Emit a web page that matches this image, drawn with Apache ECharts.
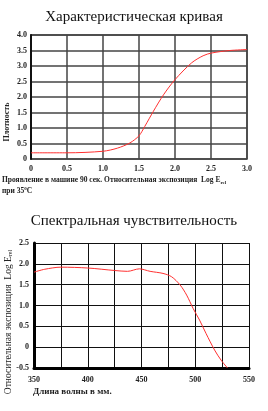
<!DOCTYPE html>
<html>
<head>
<meta charset="utf-8">
<script src="https://cdn.jsdelivr.net/npm/echarts@6/dist/echarts.min.js"></script>
<style>
  html, body { margin: 0; padding: 0; background: #fff; }
  #chart { width: 268px; height: 411px; }
</style>
</head>
<body>
<div id="chart"></div>
<script>
// characteristic curve
const logE = [0, 0.5, 1.0, 1.2, 1.375, 1.5, 1.58, 1.7, 1.84, 2.0, 2.23, 2.39, 2.51, 2.76, 3.0];
const density = [0.2, 0.2, 0.25, 0.35, 0.52, 0.75, 1.05, 1.54, 2.07, 2.56, 3.1, 3.33, 3.42, 3.5, 3.53];

// spectral sensitivity
const wavelength = [350, 360, 375, 400, 425, 437, 448, 458, 470, 478, 486, 492, 498, 504, 510, 518, 524, 530];
const exposure = [1.8, 1.87, 1.92, 1.9, 1.84, 1.82, 1.88, 1.82, 1.77, 1.69, 1.49, 1.25, 0.93, 0.65, 0.33, -0.07, -0.31, -0.5];

const serif = "Liberation Serif";
const tickFmt = v => (v === 0 ? "0" : v.toFixed(1));
const tickLabel = { fontFamily: serif, fontSize: 8, fontWeight: "bold", color: "#222" };

const chart = echarts.init(document.getElementById("chart"));

chart.setOption({
  animation: false,
  title: [
    {
      text: "Характеристическая кривая",
      left: "center", top: 5,
      textStyle: { fontFamily: serif, fontSize: 15, fontWeight: "normal", color: "#111" }
    },
    {
      text: "Спектральная чувствительность",
      left: "center", top: 209,
      textStyle: { fontFamily: serif, fontSize: 15, fontWeight: "normal", color: "#111" }
    }
  ],
  grid: [
    { left: 31, right: 21, top: 35, bottom: 252, show: true, borderColor: "#444", borderWidth: 1.5 },
    { left: 34, right: 19, top: 243, bottom: 43 }
  ],
  xAxis: [
    {
      gridIndex: 0, type: "value", min: 0, max: 3, interval: 0.5,
      axisLine: { show: false },
      axisTick: { show: false },
      axisLabel: Object.assign({ formatter: tickFmt, margin: 6 }, tickLabel),
      splitLine: { lineStyle: { color: "#444", width: 1.5 } }
    },
    {
      gridIndex: 1, type: "value", min: 350, max: 550, interval: 25,
      axisLine: { show: true, onZero: false, lineStyle: { color: "#000", width: 3 } },
      axisTick: { show: false },
      axisLabel: Object.assign({ formatter: v => (v % 50 === 0 ? String(v) : ""), margin: 8 }, tickLabel),
      splitLine: { lineStyle: { color: "#111", width: 1 } }
    }
  ],
  yAxis: [
    {
      gridIndex: 0, type: "value", min: 0, max: 4, interval: 0.5,
      axisLine: { show: true, lineStyle: { color: "#111", width: 2 } },
      axisTick: { show: false },
      axisLabel: Object.assign({ formatter: tickFmt, margin: 4 }, tickLabel),
      splitLine: { lineStyle: { color: "#444", width: 1.5 } }
    },
    {
      gridIndex: 1, type: "value", min: -0.5, max: 2.5, interval: 0.5,
      axisLine: { show: true, onZero: false, lineStyle: { color: "#000", width: 3 } },
      axisTick: { show: false },
      axisLabel: Object.assign({ formatter: tickFmt, margin: 5 }, tickLabel),
      splitLine: { lineStyle: { color: "#111", width: 1 } }
    }
  ],
  series: [
    {
      type: "line", xAxisIndex: 0, yAxisIndex: 0,
      data: logE.map((x, i) => [x, density[i]]),
      smooth: 0.3, showSymbol: false,
      lineStyle: { color: "#ff3030", width: 1 }
    },
    {
      type: "line", xAxisIndex: 1, yAxisIndex: 1,
      data: wavelength.map((x, i) => [x, exposure[i]]),
      smooth: 0.3, showSymbol: false,
      lineStyle: { color: "#ff3030", width: 1 }
    }
  ],
  graphic: [
    {
      type: "text", x: 7, y: 122, rotation: Math.PI / 2,
      style: {
        text: "Плотность", align: "center", verticalAlign: "middle",
        font: "bold 8px 'Liberation Serif'", fill: "#222"
      }
    },
    {
      type: "text", x: 2, y: 176,
      style: {
        text: "Проявление в машине 90 сек. Относительная экспозиция  Log E{sub|rel}",
        font: "bold 7.5px 'Liberation Serif'", fill: "#222",
        rich: { sub: { fontSize: 5, fontWeight: "bold", padding: [4, 0, 0, 0], fontFamily: serif } }
      }
    },
    {
      type: "text", x: 2, y: 186,
      style: {
        text: "при 35{sup|0}C",
        font: "bold 7.5px 'Liberation Serif'", fill: "#222",
        rich: { sup: { fontSize: 5, fontWeight: "bold", padding: [0, 0, 5, 0], fontFamily: serif } }
      }
    },
    {
      type: "text", x: 8, y: 322, rotation: Math.PI / 2,
      style: {
        text: "Относительная экспозиция  Log E{sub|rel}",
        align: "center", verticalAlign: "middle",
        font: "9.5px 'Liberation Serif'", fill: "#222",
        rich: { sub: { fontSize: 6, padding: [5, 0, 0, 0], fontFamily: serif } }
      }
    },
    {
      type: "text", x: 33, y: 387,
      style: {
        text: "Длина волны в мм.",
        font: "bold 9px 'Liberation Serif'", fill: "#222"
      }
    }
  ]
});
</script>
</body>
</html>
